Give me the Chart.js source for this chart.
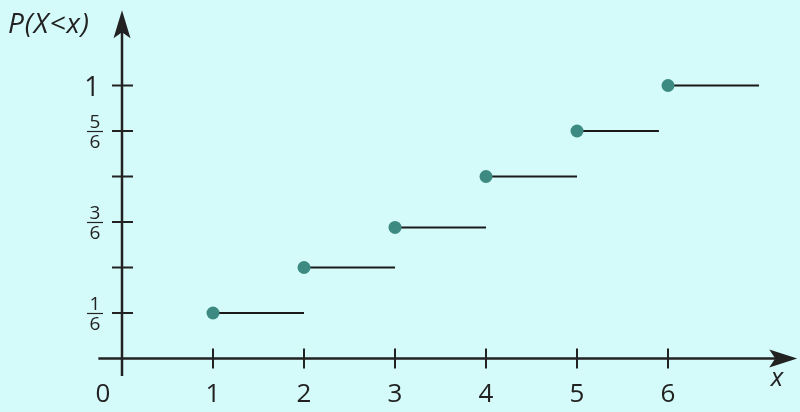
<!DOCTYPE html>
<html>
<head>
<meta charset="utf-8">
<script src="https://cdn.jsdelivr.net/npm/chart.js@4"></script>
<style>
    body { margin: 0; background: #d4fbf9; }
    #wrap { width: 800px; height: 412px; position: relative; }
</style>
</head>
<body>
<div id="wrap"><canvas id="cdfChart"></canvas></div>
<script>
// Data
const xValues = [1, 2, 3, 4, 5, 6];
const probValues = [1 / 6, 2 / 6, 0.48, 4 / 6, 5 / 6, 1];
const stepEnds = [2, 3, 4, 5, 5.9, 7];
const xTicks = [1, 2, 3, 4, 5, 6];
const xTickLabels = ['1', '2', '3', '4', '5', '6'];
const yTicks = [1 / 6, 2 / 6, 3 / 6, 4 / 6, 5 / 6, 1];
const yTickLabels = [['1', '6'], null, ['3', '6'], null, ['5', '6'], '1'];

const ink = '#222222';
const dotColor = '#3d8a83';

// Draws background, axes with arrows, ticks and labels
const axesPlugin = {
    id: 'axesPlugin',
    beforeDraw(chart) {
        const ctx = chart.ctx;
        ctx.save();
        ctx.fillStyle = '#d4fbf9';
        ctx.fillRect(0, 0, chart.width, chart.height);
        ctx.restore();
    },
    beforeDatasetsDraw(chart) {
        const ctx = chart.ctx;
        const xs = chart.scales.x;
        const ys = chart.scales.y;
        const x0 = xs.getPixelForValue(0);
        const y0 = ys.getPixelForValue(0);

        ctx.save();
        ctx.strokeStyle = ink;
        ctx.fillStyle = ink;
        ctx.lineWidth = 2.5;

        // x axis
        const xStart = xs.getPixelForValue(-0.26);
        const xTip = xs.getPixelForValue(7.42);
        ctx.beginPath();
        ctx.moveTo(xStart, y0);
        ctx.lineTo(xTip - 8, y0);
        ctx.stroke();
        ctx.beginPath();
        ctx.moveTo(xTip, y0);
        ctx.lineTo(xTip - 28, y0 - 9);
        ctx.lineTo(xTip - 22, y0);
        ctx.lineTo(xTip - 28, y0 + 9);
        ctx.closePath();
        ctx.fill();

        // y axis
        const yStart = ys.getPixelForValue(-0.064);
        const yTip = ys.getPixelForValue(1.276);
        ctx.beginPath();
        ctx.moveTo(x0, yStart);
        ctx.lineTo(x0, yTip + 8);
        ctx.stroke();
        ctx.beginPath();
        ctx.moveTo(x0, yTip);
        ctx.lineTo(x0 - 8.5, yTip + 28);
        ctx.lineTo(x0, yTip + 22);
        ctx.lineTo(x0 + 8.5, yTip + 28);
        ctx.closePath();
        ctx.fill();

        // ticks
        ctx.lineWidth = 2;
        xTicks.forEach(v => {
            const px = xs.getPixelForValue(v);
            ctx.beginPath();
            ctx.moveTo(px, y0 - 10);
            ctx.lineTo(px, y0 + 10);
            ctx.stroke();
        });
        yTicks.forEach(v => {
            const py = ys.getPixelForValue(v);
            ctx.beginPath();
            ctx.moveTo(x0 - 10, py);
            ctx.lineTo(x0 + 11, py);
            ctx.stroke();
        });

        // x labels
        ctx.font = '26px "Open Sans"';
        ctx.textAlign = 'center';
        ctx.textBaseline = 'alphabetic';
        xTicks.forEach((v, i) => {
            ctx.fillText(xTickLabels[i], xs.getPixelForValue(v), y0 + 44);
        });
        ctx.fillText('0', x0 - 19, y0 + 44);

        // y labels
        yTicks.forEach((v, i) => {
            const lab = yTickLabels[i];
            if (!lab) return;
            const py = ys.getPixelForValue(v);
            if (Array.isArray(lab)) {
                ctx.font = '19px "Open Sans"';
                ctx.fillText(lab[0], 95, py - 3);
                ctx.fillText(lab[1], 95, py + 17);
                ctx.lineWidth = 1.2;
                ctx.beginPath();
                ctx.moveTo(87, py + 0.5);
                ctx.lineTo(103, py + 0.5);
                ctx.stroke();
            } else {
                ctx.font = '27px "Open Sans"';
                ctx.fillText(lab, 92, py + 10);
            }
        });

        // axis titles
        ctx.font = 'italic 26px "Open Sans"';
        ctx.fillText('x', 777, y0 + 28);
        ctx.textAlign = 'left';
        ctx.font = 'italic 28px "Open Sans"';
        ctx.letterSpacing = '1px';
        ctx.fillText('P(X<x)', 8, 33);
        ctx.restore();
    }
};

// one line dataset per step
const stepSets = xValues.map((x, i) => ({
    data: [{ x: x, y: probValues[i] }, { x: stepEnds[i], y: probValues[i] }],
    showLine: true,
    borderColor: '#1a1a1a',
    borderWidth: 2,
    pointRadius: 0,
    order: 2
}));

const dotSet = {
    data: xValues.map((x, i) => ({ x: x, y: probValues[i] })),
    pointRadius: 6.5,
    pointHoverRadius: 6.5,
    backgroundColor: dotColor,
    borderWidth: 0,
    order: 1
};

new Chart(document.getElementById('cdfChart'), {
    type: 'scatter',
    data: { datasets: [...stepSets, dotSet] },
    options: {
        responsive: true,
        maintainAspectRatio: false,
        animation: false,
        layout: { padding: 0, autoPadding: false },
        plugins: { legend: { display: false }, tooltip: { enabled: false } },
        scales: {
            x: { type: 'linear', display: false, min: -1.3407, max: 7.4505 },
            y: { type: 'linear', display: false, min: -0.196, max: 1.3132 }
        }
    },
    plugins: [axesPlugin]
});
</script>
</body>
</html>
